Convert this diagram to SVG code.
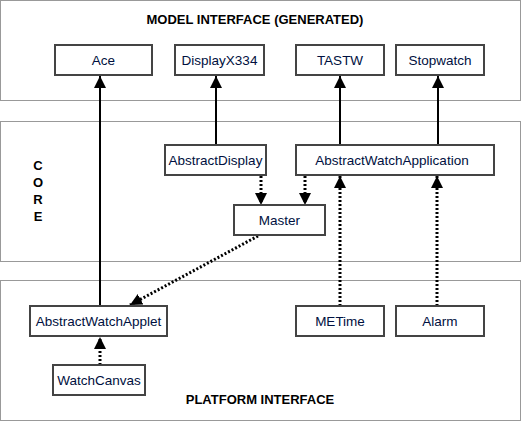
<svg xmlns="http://www.w3.org/2000/svg" width="522" height="421" viewBox="0 0 522 421">
<defs>
<style>
.panel{fill:#fff;stroke:#999;stroke-width:1}
.node rect{fill:#fff;stroke:#444;stroke-width:2}
.node text{font-family:"Liberation Sans",Arial,sans-serif;font-size:13.5px;fill:#001040;text-anchor:middle}
.title{font-family:"Liberation Sans",Arial,sans-serif;font-size:13px;font-weight:bold;fill:#000;text-anchor:middle}
.solid{stroke:#000;stroke-width:2;fill:none;marker-end:url(#ah)}
.dot{stroke:#000;stroke-width:3;stroke-dasharray:2 2;fill:none;marker-end:url(#ah)}
</style>
<marker id="ah" markerWidth="12" markerHeight="12" viewBox="0 0 10 10" refX="10" refY="5" orient="auto" markerUnits="userSpaceOnUse">
<path d="M0,0 L10,5 L0,10 z" fill="#000"/>
</marker>
</defs>
<rect width="522" height="421" fill="#fff"/>
<rect class="panel" x="0.5" y="0.5" width="520" height="100"/>
<rect class="panel" x="0.5" y="121.5" width="520" height="140"/>
<rect class="panel" x="0.5" y="280.5" width="520" height="140"/>
<text class="title" x="255" y="24">MODEL INTERFACE (GENERATED)</text>
<text class="title" x="38" y="170">C</text>
<text class="title" x="38" y="187">O</text>
<text class="title" x="38" y="204">R</text>
<text class="title" x="38" y="221">E</text>
<text class="title" x="260" y="404">PLATFORM INTERFACE</text>
<g id="connectors">
<line class="solid" x1="100" y1="306" x2="100" y2="76"/>
<line class="solid" x1="216" y1="145" x2="216" y2="76"/>
<line class="solid" x1="340" y1="145" x2="340" y2="76"/>
<line class="solid" x1="438" y1="145" x2="438" y2="76"/>
<line class="dot" x1="261" y1="176" x2="261" y2="205"/>
<line class="dot" x1="305" y1="176" x2="305" y2="205"/>
<line class="dot" x1="258" y1="236" x2="130" y2="305"/>
<line class="dot" x1="340" y1="306" x2="340" y2="176"/>
<line class="dot" x1="437" y1="306" x2="437" y2="176"/>
<line class="dot" x1="100" y1="365" x2="100" y2="337"/>
</g>
<g id="ace" class="node"><rect x="55" y="45" width="97" height="30"/><text x="103.5" y="64.5">Ace</text></g>
<g id="displayx334" class="node"><rect x="175" y="45" width="89" height="30"/><text x="219.5" y="64.5">DisplayX334</text></g>
<g id="tastw" class="node"><rect x="296" y="45" width="88" height="30"/><text x="340" y="64.5">TASTW</text></g>
<g id="stopwatch" class="node"><rect x="396" y="45" width="88" height="30"/><text x="440" y="64.5">Stopwatch</text></g>
<g id="abstractdisplay" class="node"><rect x="165" y="145" width="101" height="30"/><text x="215.5" y="164.5">AbstractDisplay</text></g>
<g id="abstractwatchapplication" class="node"><rect x="296" y="145" width="198" height="30"/><text x="392" y="164.5">AbstractWatchApplication</text></g>
<g id="master" class="node"><rect x="234" y="205" width="91" height="30"/><text x="279.5" y="224.5">Master</text></g>
<g id="abstractwatchapplet" class="node"><rect x="30" y="306" width="137" height="30"/><text x="98.5" y="325.5">AbstractWatchApplet</text></g>
<g id="metime" class="node"><rect x="296" y="306" width="88" height="30"/><text x="340" y="325.5">METime</text></g>
<g id="alarm" class="node"><rect x="396" y="306" width="88" height="30"/><text x="440" y="325.5">Alarm</text></g>
<g id="watchcanvas" class="node"><rect x="53" y="365" width="92" height="30"/><text x="99" y="384.5">WatchCanvas</text></g>
</svg>
